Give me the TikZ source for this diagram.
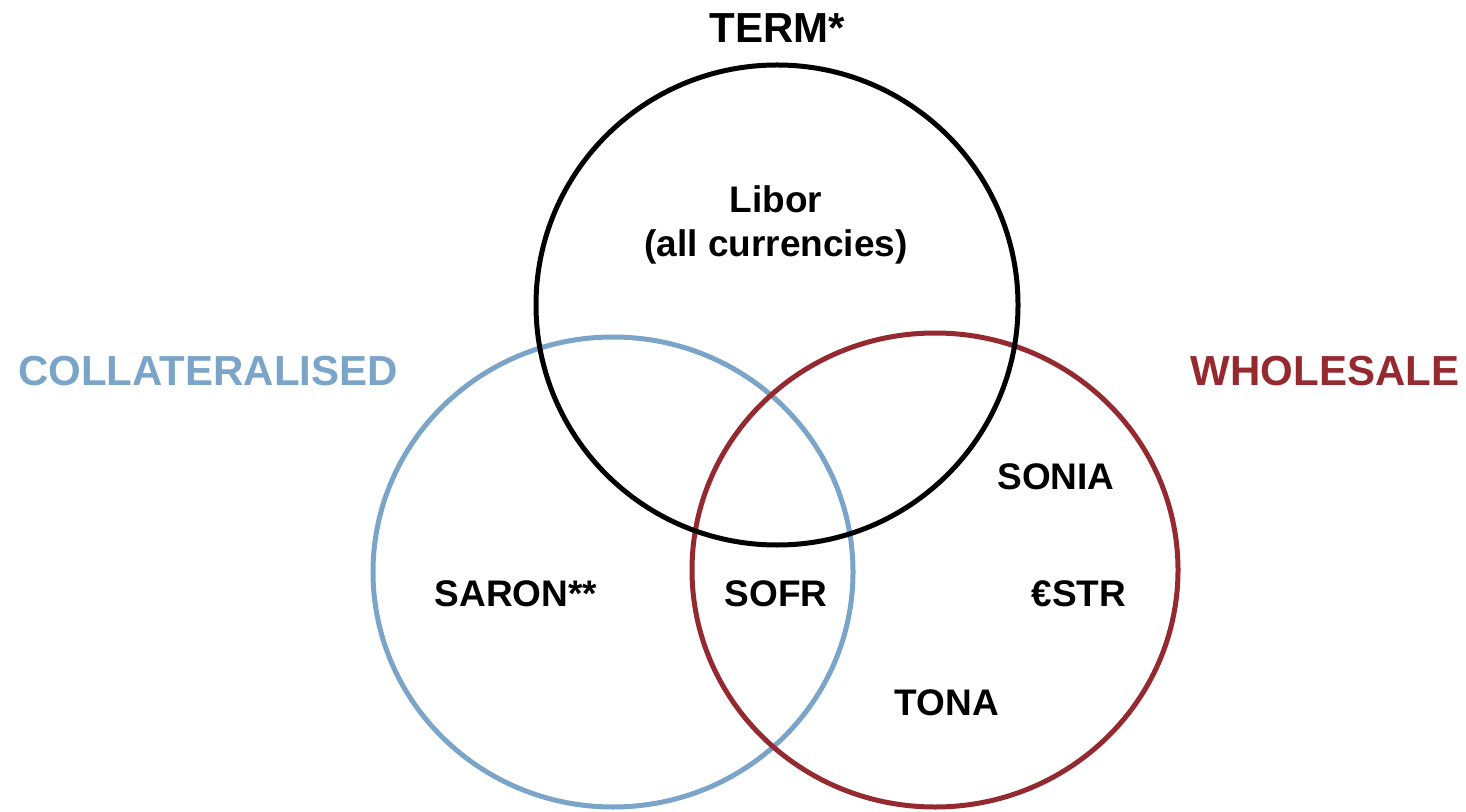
\documentclass[tikz,border=0pt]{standalone}
\usepackage{fontspec}
\setmainfont{Liberation Sans}
\definecolor{collblue}{HTML}{7BA4C9}
\definecolor{wholered}{HTML}{952930}
\begin{document}
\begin{tikzpicture}[x=0.5pt,y=-0.5pt,
  ring/.style={line width=2.5pt},
  title/.style={font=\fontsize{21}{25}\selectfont\bfseries, anchor=base, inner sep=0pt},
  item/.style={font=\fontsize{18.5}{22}\selectfont\bfseries, anchor=base, inner sep=0pt, text=black}]
\useasboundingbox (0,0) rectangle (1466,812);
\draw[ring, collblue] (613,572) ellipse [x radius=240, y radius=235];
\draw[ring, wholered] (935,570) ellipse [x radius=243, y radius=237];
\draw[ring, black] (777,305) ellipse [x radius=241, y radius=240];
\node[title] (term) at (777,43) {TERM*};
\node[title, text=collblue] (coll) at (208,386) {COLLATERALISED};
\node[title, text=wholered] (whole) at (1325,386) {WHOLESALE};
\node[item] (libor) at (776,213) {Libor};
\node[item] (allcur) at (776,257) {(all currencies)};
\node[item] (saron) at (516,606) {SARON**};
\node[item] (sofr) at (776,606) {SOFR};
\node[item] (sonia) at (1056,489) {SONIA};
\node[item] (estr) at (1079,606) {€STR};
\node[item] (tona) at (947,715) {TONA};
\end{tikzpicture}
\end{document}
